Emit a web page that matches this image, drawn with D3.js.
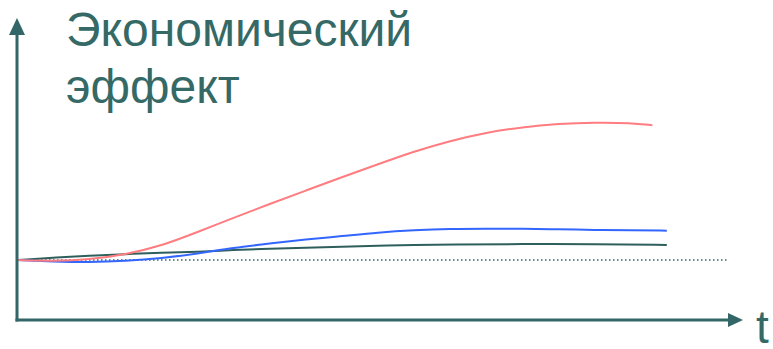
<!DOCTYPE html>
<html>
<head>
<meta charset="utf-8">
<script src="https://cdn.jsdelivr.net/npm/d3@7"></script>
<style>
html,body{margin:0;padding:0;background:#fff;}
svg{display:block;}
</style>
</head>
<body>
<svg id="chart" width="773" height="349"></svg>
<script>
const titleLines = ["Экономический", "эффект"];
const xAxisLabel = "t";

const redT = [0, 0.5, 1, 1.5, 2, 2.5, 3, 3.5, 4, 4.5, 5, 5.5, 6, 6.5, 7, 7.5, 8, 8.5, 8.8];
const redV = [0, -0.02, 0.01, 0.12, 0.31, 0.61, 0.92, 1.22, 1.51, 1.80, 2.08, 2.36, 2.59, 2.77, 2.89, 2.96, 2.99, 2.98, 2.93];

const blueT = [0, 0.5, 1, 1.5, 2, 2.5, 3, 3.5, 4, 4.5, 5, 5.5, 6, 6.5, 7, 7.5, 8, 8.5, 9];
const blueV = [0, -0.03, -0.05, -0.02, 0.04, 0.14, 0.27, 0.36, 0.45, 0.52, 0.60, 0.65, 0.68, 0.685, 0.68, 0.67, 0.655, 0.645, 0.64];

const greenT = [0, 0.5, 1, 1.5, 2, 2.5, 3, 3.5, 4, 4.5, 5, 5.5, 6, 7, 8, 9];
const greenV = [0, 0.05, 0.10, 0.13, 0.16, 0.18, 0.22, 0.25, 0.27, 0.29, 0.31, 0.33, 0.34, 0.35, 0.345, 0.33];

const baselineT = [0, 9.85];
const baselineV = [0, 0];

const axisColor = "#336666";
const svg = d3.select("#chart");

const x = d3.scaleLinear().domain([0, 10]).range([17, 739]);
const y = d3.scaleLinear().domain([-1.3, 5.3]).range([320, 16]);

// baseline dotted
svg.append("line")
  .attr("x1", x(baselineT[0])).attr("x2", x(baselineT[1]))
  .attr("y1", y(baselineV[0])).attr("y2", y(baselineV[1]))
  .attr("stroke", axisColor).attr("stroke-width", 1.5)
  .attr("stroke-dasharray", "1.5,2.5");

const line = d3.line().x(d => x(d[0])).y(d => y(d[1])).curve(d3.curveBasis);
const series = [
  {t: greenT, v: greenV, color: "#2f5f5c"},
  {t: blueT, v: blueV, color: "#3366ff"},
  {t: redT, v: redV, color: "#ff7c80"}
];
series.forEach(s => {
  svg.append("path")
    .attr("d", line(s.t.map((t, i) => [t, s.v[i]])))
    .attr("fill", "none")
    .attr("stroke", s.color)
    .attr("stroke-width", 2);
});

// axes
const x0 = x(0), yBottom = y(-1.3);
svg.append("line").attr("x1", x0).attr("x2", x0).attr("y1", yBottom + 1.5).attr("y2", 30)
  .attr("stroke", axisColor).attr("stroke-width", 3);
svg.append("path").attr("d", `M${x0},18 L${x0 - 8},35 L${x0 + 8},35 Z`).attr("fill", axisColor);
svg.append("line").attr("x1", x0 - 1.5).attr("x2", 732).attr("y1", yBottom).attr("y2", yBottom)
  .attr("stroke", axisColor).attr("stroke-width", 3);
svg.append("path").attr("d", `M743,${yBottom} L728,${yBottom - 7} L728,${yBottom + 7} Z`).attr("fill", axisColor);

// title
const title = svg.append("text")
  .attr("x", 66).attr("y", 46)
  .attr("font-family", "Liberation Sans, Arial, sans-serif")
  .attr("font-size", 48)
  .attr("fill", "#356966");
titleLines.forEach((l, i) => {
  title.append("tspan").attr("x", 66).attr("dy", i === 0 ? 0 : 57).text(l);
});

svg.append("text")
  .attr("x", 756).attr("y", 343)
  .attr("font-family", "Liberation Sans, Arial, sans-serif")
  .attr("font-size", 46)
  .attr("fill", "#356966")
  .text(xAxisLabel);
</script>
</body>
</html>
